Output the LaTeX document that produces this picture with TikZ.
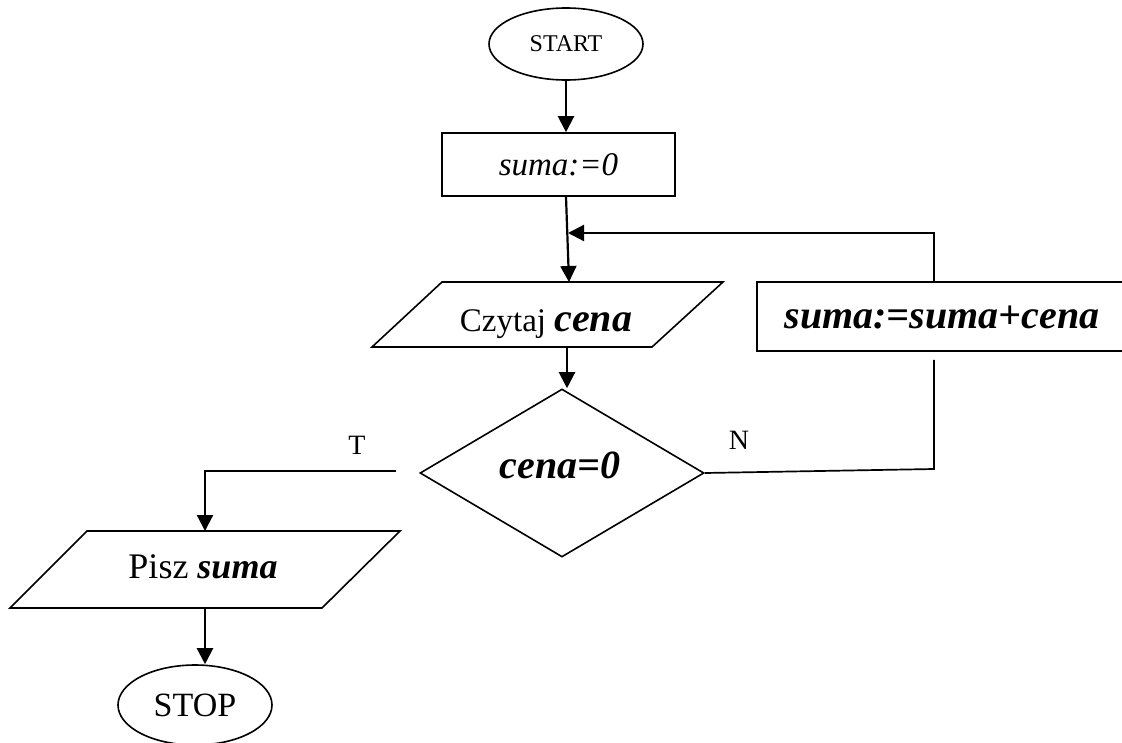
\documentclass[tikz,border=0pt]{standalone}
\usepackage{fontspec}
\setmainfont{Liberation Serif}
\usetikzlibrary{shapes.geometric,arrows.meta,calc}

\newcommand{\fs}[1]{\fontsize{#1}{#1}\selectfont}

\tikzset{
  shapeline/.style={draw=black, line width=1.6pt},
  termbox/.style={shapeline, ellipse, inner sep=0pt},
  procbox/.style={shapeline, rectangle, inner sep=0pt},
  condbox/.style={shapeline, diamond, inner sep=0pt},
  txt/.style={inner sep=0pt},
  flow/.style={line width=2.2pt, -{Triangle[length=16pt,width=16pt]}},
  plain/.style={line width=1.7pt},
}

\begin{document}
\begin{tikzpicture}[x=1pt,y=-1pt]
  \useasboundingbox (0,0) rectangle (1122,742);

  % terminals, process boxes and decision
  \node[termbox, minimum width=154pt, minimum height=72pt] (start) at (566,44) {\fs{24}START};
  \node[procbox, minimum width=233pt, minimum height=63pt] (s0) at (558.5,164.5) {\fs{33}\itshape suma:=0};
  \node[procbox, minimum width=368pt, minimum height=69pt] (upd) at (941,316.5) {};
  \node[txt] (updtext) at (942,317) {\fs{40}\bfseries\itshape suma:=suma+cena};
  \node[condbox, minimum width=284pt, minimum height=168pt] (cond) at (562,473) {};
  \node[txt] (condtext) at (560,465) {\fs{40}\bfseries\itshape cena=0};
  \node[termbox, minimum width=154pt, minimum height=80pt] (stop) at (195,705) {\fs{34}STOP};

  % input / output parallelograms
  \coordinate (in1a) at (442,282);
  \coordinate (in1b) at (723,282);
  \coordinate (in1c) at (652,347);
  \coordinate (in1d) at (372,347);
  \draw[shapeline] (in1a) -- (in1b) -- (in1c) -- (in1d) -- cycle;
  \node[txt] (in1) at (546,324) {\fs{33}Czytaj \fs{40}\bfseries\itshape cena};

  \coordinate (outa) at (87,531);
  \coordinate (outb) at (400,531);
  \coordinate (outc) at (322,608);
  \coordinate (outd) at (10,608);
  \draw[shapeline] (outa) -- (outb) -- (outc) -- (outd) -- cycle;
  \node[txt] (out) at (203,567) {\fs{36}Pisz \bfseries\itshape suma};

  % branch labels
  \node[txt] (tlab) at (357,445) {\fs{28}T};
  \node[txt] (nlab) at (739,440) {\fs{28}N};

  % connection points
  \coordinate (in1top) at (569,282);
  \coordinate (in1bot) at (567,347);
  \coordinate (join) at (568,233);
  \coordinate (loopup) at ($(upd.north)+(-7,0)$);
  \coordinate (loopdown) at ($(upd.south)+(-7,8)$);
  \coordinate (ncorner) at ($(loopdown |- cond.east)+(0,-4)$);
  \coordinate (tstart) at ($(cond.west)+(-23,-2)$);
  \coordinate (outtop) at (205,531);
  \coordinate (outbot) at (205,608);

  % flow
  \draw[flow] (start.south) -- (start.south |- s0.north);
  \draw[flow] ($(s0.south)+(7.5,0)$) -- (in1top);
  \draw[flow] (loopup) -- (loopup |- join) -- (join);
  \draw[flow] (in1bot) -- (in1bot |- cond.north);
  \draw[plain] (cond.east) -- (ncorner) -- (loopdown);
  \draw[flow] (tstart) -- (tstart -| outtop) -- (outtop);
  \draw[flow] (outbot) -- (outbot |- stop.north);
\end{tikzpicture}
\end{document}
